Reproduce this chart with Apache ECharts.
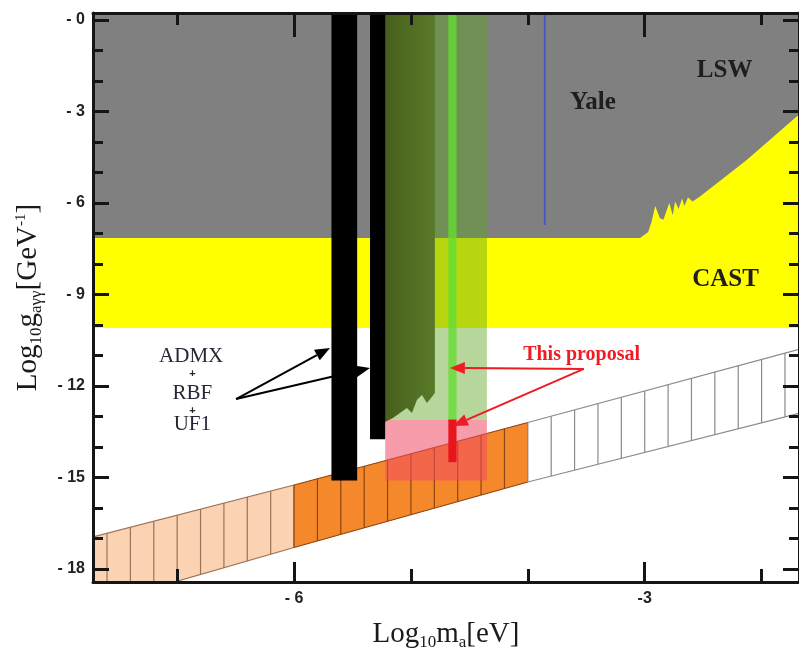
<!DOCTYPE html>
<html><head><meta charset="utf-8">
<script src="https://cdn.jsdelivr.net/npm/echarts@6/dist/echarts.min.js"></script>
<style>html,body{margin:0;padding:0;background:#fff}#c{width:799px;height:656px}</style>
</head><body><div id="c"></div>
<script>
// ---- axes: log10 m_a [eV] (x) and log10 g_agg [GeV^-1] (y)
const massRange = [-7.72, -1.68];
const couplingRange = [-18.43, 0.23];
const xMajorTicks = [-6, -3];
const xTickLabels = ['- 6', '-3'];
const xMinorTicks = [-7, -5, -4, -2];
const yMajorTicks = [0, -3, -6, -9, -12, -15, -18];
const yTickLabels = ['- 0', '- 3', '- 6', '- 9', '- 12', '- 15', '- 18'];
const yMinorTicks = [-1, -2, -4, -5, -7, -8, -10, -11, -13, -14, -16, -17];

// ---- excluded regions
const lswRegion = [-7.72, -1.68, 0.23, -7.15];           // [m from, m to, g top, g bottom]
const castUpper = [[-7.72, -7.15], [-3.04, -7.15], [-2.97, -6.95], [-2.94, -6.6], [-2.91, -6.1],
  [-2.87, -6.5], [-2.84, -6.55], [-2.79, -6.0], [-2.76, -6.4], [-2.74, -5.95], [-2.71, -6.2],
  [-2.68, -5.85], [-2.66, -6.1], [-2.63, -5.82], [-2.59, -5.95], [-2.53, -5.8], [-2.13, -4.6], [-1.68, -3.1]];
const castLower = -10.1;
const yaleLine = [-3.855, 0.16, -6.72];                   // [m, g top, g bottom]

// ---- QCD axion band (vertices shared by top and bottom edges)
const bandTop = [[-7.72, -16.95], [-6, -15.25], [-4, -13.2], [-1.68, -10.8]];
const bandBottom = [[-7.72, -19.2], [-6, -17.3], [-4, -15.15], [-1.68, -12.9]];
const bandFills = ['#fbd2b2', '#f5882b', '#ffffff'];
const bandHatch = ['#9a7358', '#8c4412', '#8a8a8a'];
const hatchStep = 0.2;

// ---- haloscope limits
const admxBars = [[-5.68, -5.46, 0.23, -15.1], [-5.35, -5.22, 0.23, -13.75]];
const darkGreenEdge = [[-5.222, -13.18], [-5.154, -13.05], [-5.094, -12.89], [-5.034, -12.72], [-4.991, -12.89],
  [-4.949, -12.46], [-4.906, -12.3], [-4.863, -12.56], [-4.821, -12.36], [-4.795, -12.23]];
const darkGreenTop = 0.23;

// ---- this proposal
const proposalGreen = [-5.22, -4.35, 0.23, -13.1];
const proposalPink = [-5.22, -4.35, -13.1, -15.1];
const proposalLine = [-4.68, -4.61, 0.23, -13.1];
const proposalRedLine = [-4.68, -4.61, -13.1, -14.5];

// ---- annotations [text, m, g]
const regionLabels = [['LSW', -2.316, -1.67], ['Yale', -3.444, -2.72], ['CAST', -2.308, -8.52]];
const expLabels = [['ADMX', -6.88, -11.02], ['+', -6.87, -11.62], ['RBF', -6.87, -12.26], ['+', -6.87, -12.82], ['UF1', -6.87, -13.28]];
const proposalLabel = ['This proposal', -3.54, -10.98];
const blackArrows = [[[-6.496, -12.43], [-5.692, -10.754]], [[-6.496, -12.43], [-5.35, -11.41]]];
const redArrows = [[[-3.521, -11.443], [-4.667, -11.41]], [[-3.521, -11.443], [-4.641, -13.31]]];

// ---------------------------------------------------------------
const rectPoly = r => [[r[0], r[2]], [r[1], r[2]], [r[1], r[3]], [r[0], r[3]]];
const AX = '#151515';
const serif = '"Liberation Serif","DejaVu Serif",serif';
const sans = '"Liberation Sans","DejaVu Sans",sans-serif';

function polySeries(polys, style, z) {
  return {
    type: 'custom', silent: true, clip: true, z: z,
    data: polys.map(p => p[0]),
    renderItem: (params, api) => ({
      type: 'polygon',
      shape: { points: polys[params.dataIndex].map(pt => api.coord(pt)) },
      style: style
    })
  };
}

const castPoly = castUpper.concat([[castUpper[castUpper.length - 1][0], castLower], [castUpper[0][0], castLower]]);
const darkGreenPoly = [[darkGreenEdge[0][0], darkGreenTop], [darkGreenEdge[darkGreenEdge.length - 1][0], darkGreenTop]]
  .concat(darkGreenEdge.slice().reverse());

const bandSeries = {
  type: 'custom', silent: true, clip: true, z: 3,
  data: bandTop.slice(0, -1),
  renderItem: (params, api) => {
    const i = params.dataIndex;
    const t0 = bandTop[i], t1 = bandTop[i + 1], b0 = bandBottom[i], b1 = bandBottom[i + 1];
    const children = [{
      type: 'polygon',
      shape: { points: [t0, t1, b1, b0].map(p => api.coord(p)) },
      style: { fill: bandFills[i] }
    }];
    const k0 = Math.ceil(t0[0] / hatchStep - 1e-6), k1 = Math.floor(t1[0] / hatchStep + 1e-6);
    for (let k = k0; k <= k1; k++) {
      const m = k * hatchStep;
      const f = (m - t0[0]) / (t1[0] - t0[0]);
      const gt = t0[1] + f * (t1[1] - t0[1]);
      const gb = b0[1] + f * (b1[1] - b0[1]);
      const p1 = api.coord([m, gt]), p2 = api.coord([m, gb]);
      children.push({ type: 'line', shape: { x1: p1[0], y1: p1[1], x2: p2[0], y2: p2[1] },
        style: { stroke: bandHatch[i], lineWidth: 1.2 } });
    }
    children.push({ type: 'polyline', shape: { points: [t0, t1].map(p => api.coord(p)) }, style: { stroke: bandHatch[i], lineWidth: 1.2, fill: null } });
    children.push({ type: 'polyline', shape: { points: [b0, b1].map(p => api.coord(p)) }, style: { stroke: bandHatch[i], lineWidth: 1.2, fill: null } });
    return { type: 'group', children: children };
  }
};

function textSeries(items, font, color, z) {
  return {
    type: 'custom', silent: true, z: z,
    data: items.map(t => [t[1], t[2]]),
    renderItem: (params, api) => {
      const t = items[params.dataIndex];
      const p = api.coord([t[1], t[2]]);
      return { type: 'text', x: p[0], y: p[1],
        style: { text: t[0], font: font, fill: color, align: 'center', verticalAlign: 'middle' } };
    }
  };
}

function arrowSeries(arrows, color, width, z) {
  return {
    type: 'custom', silent: true, z: z,
    data: arrows.map(a => a[1]),
    renderItem: (params, api) => {
      const a = arrows[params.dataIndex];
      const s = api.coord(a[0]), e = api.coord(a[1]);
      const dx = e[0] - s[0], dy = e[1] - s[1], L = Math.hypot(dx, dy);
      const ux = dx / L, uy = dy / L, hl = 15, hw = 6;
      const bx = e[0] - ux * hl, by = e[1] - uy * hl;
      return { type: 'group', children: [
        { type: 'line', shape: { x1: s[0], y1: s[1], x2: bx, y2: by }, style: { stroke: color, lineWidth: width } },
        { type: 'polygon', shape: { points: [e, [bx - uy * hw, by + ux * hw], [bx + uy * hw, by - ux * hw]] }, style: { fill: color } }
      ] };
    }
  };
}

const yaleSeries = {
  type: 'custom', silent: true, z: 2,
  data: [[yaleLine[0], yaleLine[1]]],
  renderItem: (params, api) => {
    const p1 = api.coord([yaleLine[0], yaleLine[1]]), p2 = api.coord([yaleLine[0], yaleLine[2]]);
    return { type: 'line', shape: { x1: p1[0], y1: p1[1], x2: p2[0], y2: p2[1] }, style: { stroke: '#4657c4', lineWidth: 2 } };
  }
};

const rich = {
  n: { fontFamily: serif, fontSize: 29, lineHeight: 35, color: '#1a1a1a' },
  s: { fontFamily: serif, fontSize: 17, lineHeight: 17, padding: [16, 0, 0, 0], color: '#1a1a1a' },
  u: { fontFamily: serif, fontSize: 15, lineHeight: 15, padding: [0, 0, 14, 0], color: '#1a1a1a' }
};

function xAx(pos, ticks, len, labels, line) {
  return {
    type: 'value', min: massRange[0], max: massRange[1], position: pos, z: 10,
    axisLine: { show: line, onZero: false, lineStyle: { color: AX, width: 3 } },
    axisTick: { show: true, inside: true, length: len, customValues: ticks, lineStyle: { color: AX, width: 3 } },
    axisLabel: labels ? { customValues: ticks, margin: 9, color: '#222', fontFamily: sans, fontWeight: 'bold', fontSize: 16,
      formatter: v => xTickLabels[xMajorTicks.findIndex(t => Math.abs(t - v) < 1e-6)] } : { show: false },
    splitLine: { show: false }
  };
}
function yAx(pos, ticks, len, labels, line) {
  return {
    type: 'value', min: couplingRange[0], max: couplingRange[1], position: pos, z: 10,
    axisLine: { show: line, onZero: false, lineStyle: { color: AX, width: 3 } },
    axisTick: { show: true, inside: true, length: len, customValues: ticks, lineStyle: { color: AX, width: 3 } },
    axisLabel: labels ? { customValues: ticks, margin: 8, color: '#222', fontFamily: sans, fontWeight: 'bold', fontSize: 16,
      formatter: v => yTickLabels[yMajorTicks.findIndex(t => Math.abs(t - v) < 1e-6)] } : { show: false },
    splitLine: { show: false }
  };
}

const xAxes = [xAx('bottom', xMajorTicks, 20, true, true), xAx('bottom', xMinorTicks, 13, false, false),
  xAx('top', xMajorTicks, 24, false, true), xAx('top', xMinorTicks, 12, false, false)];
Object.assign(xAxes[0], { name: '{n|Log}{s|10}{n|m}{s|a}{n|[eV]}', nameLocation: 'middle', nameGap: 35, nameTextStyle: { rich: rich } });
const yAxes = [yAx('left', yMajorTicks, 16, true, true), yAx('left', yMinorTicks, 10, false, false),
  yAx('right', yMajorTicks, 16, false, true), yAx('right', yMinorTicks, 10, false, false)];
Object.assign(yAxes[0], { name: '{n|Log}{s|10}{n|g}{s|aγγ}{n|[GeV}{u|-1}{n|]}', nameLocation: 'middle', nameGap: 47, nameTextStyle: { rich: rich } });

const chart = echarts.init(document.getElementById('c'));
chart.setOption({
  animation: false,
  backgroundColor: '#fff',
  grid: { left: 93, right: 0, top: 13, bottom: 74 },
  xAxis: xAxes,
  yAxis: yAxes,
  series: [
    polySeries([rectPoly(lswRegion)], { fill: '#808080' }, 1),
    polySeries([castPoly], { fill: '#ffff00' }, 1),
    yaleSeries,
    bandSeries,
    polySeries([rectPoly(proposalGreen)], { fill: 'rgba(95,165,35,0.45)' }, 4),
    polySeries([rectPoly(proposalPink)], { fill: 'rgba(240,75,100,0.55)' }, 4),
    polySeries([rectPoly(proposalLine)], { fill: 'rgba(100,220,50,0.8)' }, 5),
    polySeries([rectPoly(proposalRedLine)], { fill: '#e8141e' }, 5),
    polySeries([darkGreenPoly], { fill: new echarts.graphic.LinearGradient(0, 0, 1, 0, [{ offset: 0, color: '#475f1c' }, { offset: 1, color: '#5a7a28' }]) }, 6),
    polySeries(admxBars.map(rectPoly), { fill: '#000000' }, 7),
    textSeries(regionLabels, 'bold 25px ' + serif, '#1e1e1e', 8),
    textSeries(expLabels.filter(t => t[0] !== '+'), '21px ' + serif, '#262636', 8),
    textSeries(expLabels.filter(t => t[0] === '+'), 'bold 11px ' + sans, '#262636', 8),
    textSeries([proposalLabel], 'bold 20px ' + serif, '#ee1c24', 8),
    arrowSeries(blackArrows, '#000000', 2, 9),
    arrowSeries(redArrows, '#ee1c24', 2, 9)
  ]
});
</script></body></html>
